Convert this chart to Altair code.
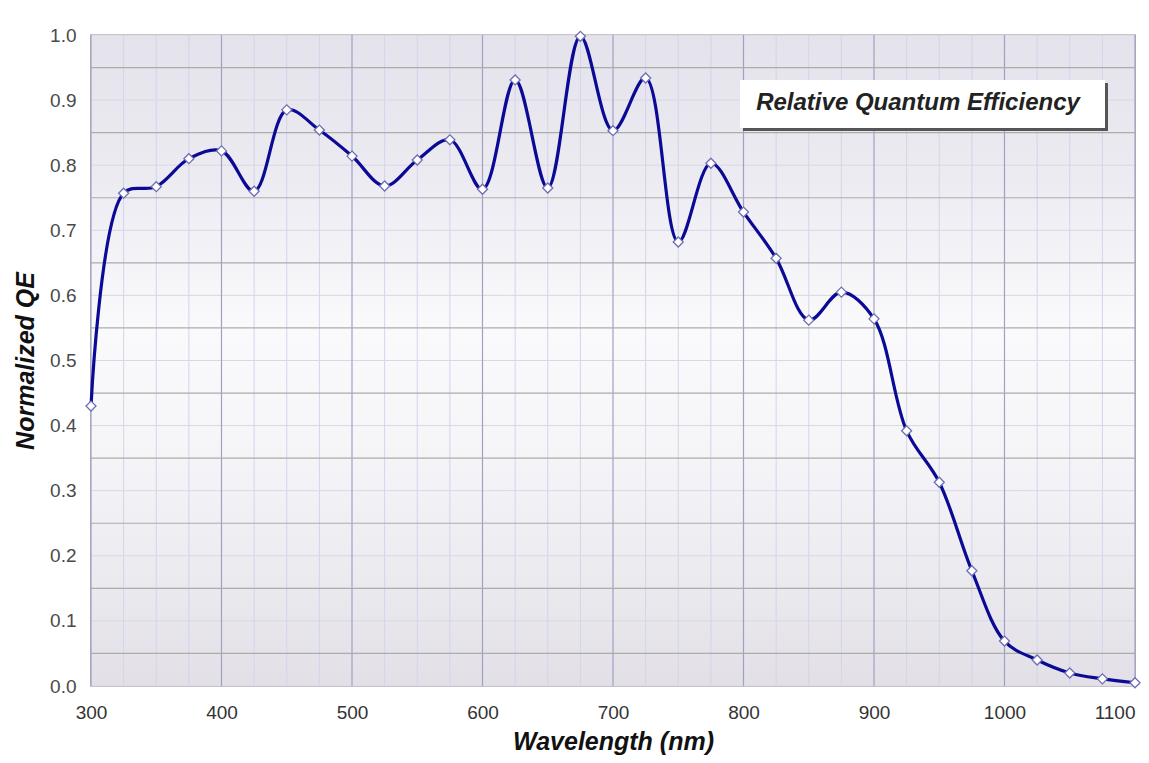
import altair as alt
import pandas as pd

# ---- data ----
WAVELENGTH = [300, 325, 350, 375, 400, 425, 450, 475, 500, 525, 550, 575, 600,
              625, 650, 675, 700, 725, 750, 775, 800, 825, 850, 875, 900, 925,
              950, 975, 1000, 1025, 1050, 1075, 1100]
QE = [0.430, 0.757, 0.767, 0.810, 0.822, 0.760, 0.885, 0.854, 0.814, 0.768,
      0.808, 0.839, 0.763, 0.931, 0.765, 0.998, 0.853, 0.934, 0.682, 0.803,
      0.728, 0.657, 0.562, 0.605, 0.564, 0.392, 0.313, 0.177, 0.069, 0.040,
      0.020, 0.011, 0.005]

X_TICKS = [300, 325, 350, 375, 400, 425, 450, 475, 500, 525, 550, 575, 600,
           625, 650, 675, 700, 725, 750, 775, 800, 825, 850, 875, 900, 925,
           950, 975, 1000, 1025, 1050, 1075, 1100]
X_LABELED = [300, 400, 500, 600, 700, 800, 900, 1000, 1100]
Y_TICKS = [0.0, 0.05, 0.1, 0.15, 0.2, 0.25, 0.3, 0.35, 0.4, 0.45, 0.5, 0.55,
           0.6, 0.65, 0.7, 0.75, 0.8, 0.85, 0.9, 0.95, 1.0]
Y_LABELED = [0.0, 0.1, 0.2, 0.3, 0.4, 0.5, 0.6, 0.7, 0.8, 0.9, 1.0]

X_TITLE = "Wavelength (nm)"
Y_TITLE = "Normalized QE"
SERIES_LABEL = "Relative Quantum Efficiency"

df = pd.DataFrame({"wavelength": WAVELENGTH, "qe": QE})

FONT = "Liberation Sans"
X_SCALE = alt.Scale(domain=[300, 1100], nice=False, zero=False)
Y_SCALE = alt.Scale(domain=[0, 1], nice=False)

X_AXIS = alt.Axis(
    values=X_LABELED,
    format="d",
    grid=False,
    domain=False,
    ticks=False,
    tickSize=0,
    labelFont=FONT,
    labelFontSize=19,
    labelColor="#333333",
    labelPadding=17,
    labelOverlap=False,
    labelFlush=False,
    labelAlign={"condition": {"test": "datum.value === 1100", "value": "right"},
                "value": "center"},
    title=X_TITLE,
    titleFont=FONT,
    titleFontSize=25,
    titleFontWeight="bold",
    titleFontStyle="italic",
    titleColor="#111111",
    titleBaseline="alphabetic",
    titleY=63,
)

Y_AXIS = alt.Axis(
    values=Y_LABELED,
    format=".1f",
    grid=False,
    domain=False,
    ticks=False,
    tickSize=0,
    labelFont=FONT,
    labelFontSize=19,
    labelColor="#4a4a4a",
    labelPadding=15,
    labelOverlap=False,
    title=Y_TITLE,
    titleFont=FONT,
    titleFontSize=25,
    titleFontWeight="bold",
    titleFontStyle="italic",
    titleColor="#111111",
    titleBaseline="alphabetic",
    titleX=-58,
)

bg_data = alt.Data(values=[{"k": 1}])

background = alt.Chart(bg_data).mark_rect(
    fill=alt.Gradient(
        gradient="linear",
        x1=0, x2=0, y1=0, y2=1,
        stops=[
            alt.GradientStop(color="#e4e2ea", offset=0.0),
            alt.GradientStop(color="#ecebf2", offset=0.22),
            alt.GradientStop(color="#fafafc", offset=0.45),
            alt.GradientStop(color="#f6f6f9", offset=0.62),
            alt.GradientStop(color="#edecf1", offset=0.8),
            alt.GradientStop(color="#e2e0e6", offset=1.0),
        ],
    ),
).encode(
    x=alt.value(0), x2=alt.value("width"),
    y=alt.value(0), y2=alt.value("height"),
)

# grid lines (drawn as rules through the same scales)
xg_minor = pd.DataFrame({"wavelength": [v for v in X_TICKS if v not in X_LABELED]})
xg_major = pd.DataFrame({"wavelength": X_LABELED})
yg_minor = pd.DataFrame({"qe": Y_LABELED})
yg_major = pd.DataFrame({"qe": [v for v in Y_TICKS if v not in Y_LABELED]})

grid_x_minor = alt.Chart(xg_minor).mark_rule(color="#d3d3ec", strokeWidth=1).encode(
    x=alt.X("wavelength:Q", scale=X_SCALE, axis=X_AXIS))
grid_x_major = alt.Chart(xg_major).mark_rule(color="#a0a0c4", strokeWidth=1.2).encode(
    x=alt.X("wavelength:Q", scale=X_SCALE, axis=X_AXIS))
grid_y_minor = alt.Chart(yg_minor).mark_rule(color="#d8d8e4", strokeWidth=1).encode(
    y=alt.Y("qe:Q", scale=Y_SCALE, axis=Y_AXIS))
grid_y_major = alt.Chart(yg_major).mark_rule(color="#acaca8", strokeWidth=1.2).encode(
    y=alt.Y("qe:Q", scale=Y_SCALE, axis=Y_AXIS))

base = alt.Chart(df).encode(
    x=alt.X("wavelength:Q", scale=X_SCALE, axis=X_AXIS),
    y=alt.Y("qe:Q", scale=Y_SCALE, axis=Y_AXIS),
)

line = base.mark_line(
    interpolate="catmull-rom", color="#0a0a96", strokeWidth=3.2
)

points = base.mark_point(
    shape="diamond", filled=True, fill="white", stroke="#6d6db4",
    strokeWidth=1.3, size=100, opacity=1,
)

label_df = pd.DataFrame({"label": [SERIES_LABEL]})

box_shadow = alt.Chart(label_df).mark_rect(fill="#555555").encode(
    x=alt.value(652), x2=alt.value(1017), y=alt.value(48), y2=alt.value(96)
)
box = alt.Chart(label_df).mark_rect(fill="white").encode(
    x=alt.value(649), x2=alt.value(1014), y=alt.value(45), y2=alt.value(93)
)
box_text = alt.Chart(label_df).mark_text(
    font=FONT, fontSize=24, fontWeight="bold", fontStyle="italic",
    color="#222222", align="center", baseline="middle",
).encode(x=alt.value(827), y=alt.value(68), text="label:N")

chart = alt.layer(
    background, grid_x_minor, grid_y_minor, grid_x_major, grid_y_major,
    line, points, box_shadow, box, box_text
).properties(
    width=1044,
    height=651,
    autosize=alt.AutoSizeParams(type="none"),
    padding={"left": 83, "top": 27, "right": 6, "bottom": 69},
    background="white",
).configure_view(
    stroke="#9a9a9a", strokeWidth=1.5
)

chart.save("out.html", embed_options={"renderer": "svg", "actions": False})
